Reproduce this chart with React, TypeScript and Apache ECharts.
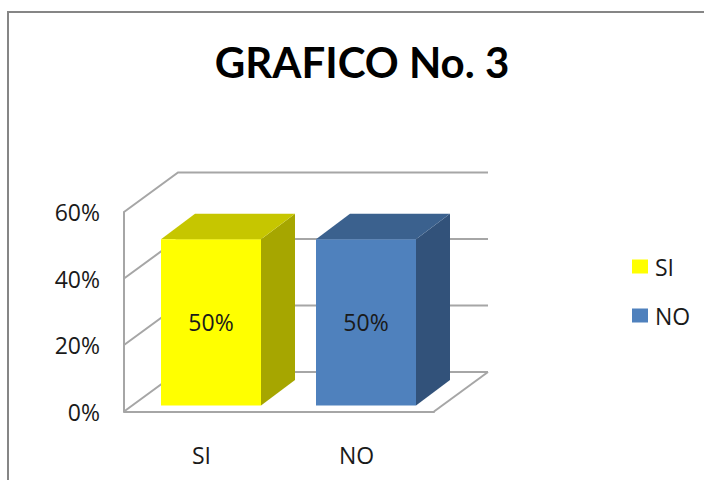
import React, { useEffect, useRef } from "react";
import * as echarts from "echarts";

const title = "GRAFICO No. 3";
const categories = ["SI", "NO"];
const siValues = [50];
const noValues = [50];
const wallTicks = [0, 20, 40, 60];
const FONT = "'Open Sans', sans-serif";

// Oblique projection of the fake-3D plot, in pixels
const WALL_DX = 54;
const WALL_DY = 39.5;
const BAR_DX = 34;
const BAR_DY = 25.5;
const BAR_SHIFT_X = 9.5;
const BAR_SHIFT_Y = 6;
const BAR_W = 100;
const WALL_COLOR = "#a6a6a6";

const bar = (front: string, top: string, side: string) => (params: any, api: any) => {
  const cat = api.value(0);
  const val = api.value(1);
  const [cx, yTop0] = api.coord([cat, val]);
  const [, yBase0] = api.coord([cat, 0]);
  const x0 = cx + BAR_SHIFT_X - BAR_W / 2;
  const x1 = x0 + BAR_W;
  const yT = yTop0 - BAR_SHIFT_Y;
  const yB = yBase0 - BAR_SHIFT_Y;
  return {
    type: "group",
    children: [
      { type: "polygon", shape: { points: [[x1, yT], [x1 + BAR_DX, yT - BAR_DY], [x1 + BAR_DX, yB - BAR_DY], [x1, yB]] }, style: { fill: side } },
      { type: "polygon", shape: { points: [[x0, yT], [x0 + BAR_DX, yT - BAR_DY], [x1 + BAR_DX, yT - BAR_DY], [x1, yT]] }, style: { fill: top } },
      { type: "rect", shape: { x: x0, y: yT, width: BAR_W, height: yB - yT }, style: { fill: front } },
      {
        type: "text",
        style: {
          x: (x0 + x1) / 2,
          y: (yT + yB) / 2,
          text: val + "%",
          fill: "#1a1a1a",
          font: `23px ${FONT}`,
          align: "center",
          verticalAlign: "middle",
        },
      },
    ],
  };
};

const wall = (params: any, api: any) => {
  const v = api.value(1);
  const band = api.size([1, 0])[0];
  const [x0, y] = api.coord([0, v]);
  const [x1] = api.coord([1, v]);
  const xL = x0 - band / 2;
  const xR = x1 + band / 2;
  const style = { stroke: WALL_COLOR, lineWidth: 2, fill: "none" };
  const children: any[] = [
    { type: "polyline", shape: { points: [[xL, y], [xL + WALL_DX, y - WALL_DY], [xR + WALL_DX, y - WALL_DY]] }, style },
  ];
  if (v === 0) {
    children.push({ type: "line", shape: { x1: xR, y1: y, x2: xR + WALL_DX, y2: y - WALL_DY }, style });
  }
  return { type: "group", children };
};

export default function App() {
  const ref = useRef<HTMLDivElement>(null);
  useEffect(() => {
    document.body.style.margin = "0";
    const chart = echarts.init(ref.current!, undefined, { renderer: "svg" });
    chart.setOption({
      animation: false,
      backgroundColor: "#ffffff",
      title: {
        text: title,
        left: 357,
        top: 36,
        textAlign: "center",
        textStyle: { fontFamily: "Lato", fontWeight: "bold", fontSize: 42, color: "#000" },
      },
      legend: {
        data: categories,
        orient: "vertical",
        left: 627,
        top: 250,
        icon: "rect",
        itemWidth: 16,
        itemHeight: 14,
        itemGap: 26,
        selectedMode: false,
        textStyle: { fontFamily: FONT, fontSize: 23, color: "#1a1a1a", padding: [0, 0, 0, 2] },
      },
      grid: { left: 124, top: 212, width: 310, height: 199.5 },
      xAxis: {
        type: "category",
        data: categories,
        axisLine: { lineStyle: { color: WALL_COLOR, width: 2 } },
        axisTick: { show: false },
        axisLabel: { fontFamily: FONT, fontSize: 23, color: "#1a1a1a", margin: 32 },
      },
      yAxis: {
        type: "value",
        min: 0,
        max: 60,
        interval: 20,
        axisLine: { show: true, lineStyle: { color: WALL_COLOR, width: 2 } },
        axisTick: { show: false },
        splitLine: { show: false },
        axisLabel: { fontFamily: FONT, fontSize: 23, color: "#1a1a1a", margin: 24, padding: [3, 0, 0, 0], formatter: "{value}%" },
      },
      graphic: [
        {
          type: "polyline",
          z: -1,
          shape: { points: [[8, 480], [8, 12], [704, 12]] },
          style: { stroke: "#868686", lineWidth: 2, fill: "none" },
        },
      ],
      series: [
        {
          name: "wall",
          type: "custom",
          coordinateSystem: "cartesian2d",
          renderItem: wall,
          data: wallTicks.map((t) => [0, t]),
          encode: { x: 0, y: 1 },
          z: 1,
          silent: true,
        },
        {
          name: categories[0],
          type: "custom",
          renderItem: bar("#ffff00", "#c6c600", "#a6a600"),
          data: siValues.map((v) => [0, v]),
          encode: { x: 0, y: 1 },
          itemStyle: { color: "#ffff00" },
          z: 2,
        },
        {
          name: categories[1],
          type: "custom",
          renderItem: bar("#4f81bd", "#3b618e", "#32527a"),
          data: noValues.map((v) => [1, v]),
          encode: { x: 0, y: 1 },
          itemStyle: { color: "#4f81bd" },
          z: 2,
        },
      ],
    });
    return () => chart.dispose();
  }, []);
  return <div ref={ref} style={{ width: 704, height: 480 }} />;
}
